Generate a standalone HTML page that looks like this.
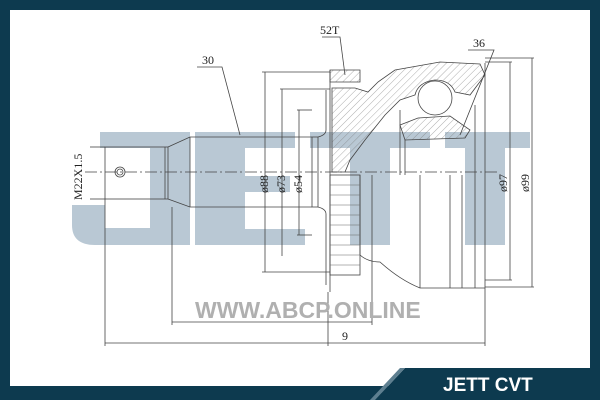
<!DOCTYPE html>
<html><head><meta charset="utf-8"><style>
html,body{margin:0;padding:0;background:#0d3a4f;}
svg{display:block;}
</style></head><body>
<svg width="600" height="400" viewBox="0 0 600 400" xmlns="http://www.w3.org/2000/svg" font-family="Liberation Serif, serif">
<defs>
<pattern id="h" width="5" height="5" patternUnits="userSpaceOnUse" patternTransform="rotate(45)">
<line x1="0" y1="0" x2="0" y2="5" stroke="#777" stroke-width="0.6"/>
</pattern>
</defs>
<rect width="600" height="400" fill="#0d3a4f"/>
<rect x="10" y="10" width="580" height="376" fill="#fff"/>
<polygon points="375,400 405,368 600,368 600,400" fill="#0d3a4f"/>
<polygon points="370,400 400,368 405,368 375,400" fill="#5e7f90"/>
<!-- watermark JETT -->
<g fill="#b9c8d4">
 <rect x="100" y="132" width="90" height="16"/>
 <rect x="150" y="132" width="40" height="113"/>
 <path d="M72,205 L105,205 L105,228 L150,228 L150,245 L95,245 Q72,245 72,225 Z"/>
 <rect x="195" y="132" width="100" height="16"/>
 <rect x="195" y="132" width="50" height="113"/>
 <rect x="195" y="176" width="95" height="16"/>
 <rect x="195" y="229" width="110" height="16"/>
 <rect x="310" y="132" width="120" height="16"/>
 <rect x="350" y="132" width="40" height="113"/>
 <rect x="445" y="132" width="85" height="16"/>
 <rect x="465" y="132" width="40" height="113"/>
</g>
<!-- hatched sections -->
<g fill="url(#h)" stroke="#444" stroke-width="0.8">
 <path d="M332,88 L355,88 L368,92 L378,82 L395,70 L440,62 L480,64 L485,75 L470,95 L455,92 Q450,80 435,80 Q418,82 415,95 L400,100 L385,115 L365,140 L350,160 L345,172 L332,172 Z"/>
 <path d="M400,125 L418,118 L450,116 L470,130 L465,138 L405,140 Z"/>
 <path d="M330,70 L360,70 L360,82 L330,82 Z"/>
</g>
<g stroke="#444" stroke-width="0.8" fill="none">
 <line x1="85" y1="172" x2="500" y2="172" stroke-dasharray="12,3,2,3"/>
 <rect x="105" y="147" width="63" height="52"/>
 <line x1="165" y1="147" x2="165" y2="199"/>
 <polyline points="168,147 190,137 312,137"/>
 <polyline points="168,199 190,207 312,207"/>
 <line x1="190" y1="137" x2="190" y2="207"/>
 <circle cx="120" cy="172" r="5"/><circle cx="120" cy="172" r="3"/>
 <rect x="312" y="137" width="6" height="70"/>
 <path d="M318,137 Q326,135 326,130 L326,90 M318,207 Q326,209 326,214 L326,285"/>
 <line x1="330" y1="70" x2="330" y2="292"/>
 <polyline points="485,63 485,288"/>
 <rect x="330" y="175" width="30" height="100"/>
 <path d="M360,175 L360,255 Q368,262 380,262 Q400,280 420,288 L485,288"/>
 <line x1="372" y1="175" x2="372" y2="262"/>
 <line x1="420" y1="175" x2="420" y2="288"/>
 <line x1="450" y1="175" x2="450" y2="288"/>
 <line x1="462" y1="175" x2="462" y2="288"/>
 <line x1="475" y1="105" x2="475" y2="288"/>
 <line x1="400" y1="110" x2="400" y2="175"/>
 <line x1="405" y1="140" x2="405" y2="175"/>
 <circle cx="435" cy="98" r="17"/>
 <line x1="265" y1="72" x2="265" y2="272"/><line x1="262" y1="72" x2="330" y2="72"/><line x1="262" y1="272" x2="330" y2="272"/>
 <line x1="282" y1="89" x2="282" y2="256"/><line x1="280" y1="89" x2="330" y2="89"/>
 <line x1="299" y1="110" x2="299" y2="235"/><line x1="297" y1="110" x2="312" y2="110"/><line x1="297" y1="235" x2="312" y2="235"/>
 <line x1="510" y1="62" x2="510" y2="280"/><line x1="485" y1="62" x2="512" y2="62"/><line x1="485" y1="280" x2="512" y2="280"/>
 <line x1="532" y1="58" x2="532" y2="287"/><line x1="485" y1="58" x2="534" y2="58"/><line x1="485" y1="287" x2="534" y2="287"/>
 <line x1="90" y1="147" x2="105" y2="147"/><line x1="90" y1="199" x2="105" y2="199"/>
 <line x1="105" y1="199" x2="105" y2="346"/>
 <line x1="172" y1="207" x2="172" y2="325"/>
 <line x1="372" y1="262" x2="372" y2="325"/>
 <line x1="485" y1="288" x2="485" y2="346"/>
 <line x1="328" y1="292" x2="328" y2="346"/>
 <line x1="172" y1="322" x2="372" y2="322"/>
 <line x1="105" y1="343" x2="485" y2="343"/>
 <polyline points="197,67 222,67 240,135"/>
 <polyline points="322,37 340,37 345,75"/>
 <polyline points="468,50 494,50 460,135"/>
</g>
<g stroke="#666" stroke-width="0.5">
 <line x1="330" y1="185" x2="360" y2="185"/><line x1="330" y1="195" x2="360" y2="195"/><line x1="330" y1="205" x2="360" y2="205"/>
 <line x1="330" y1="215" x2="360" y2="215"/><line x1="330" y1="225" x2="360" y2="225"/><line x1="330" y1="235" x2="360" y2="235"/>
 <line x1="330" y1="245" x2="360" y2="245"/><line x1="330" y1="255" x2="360" y2="255"/><line x1="330" y1="265" x2="360" y2="265"/>
</g>
<g font-size="12" fill="#222">
 <text x="202" y="64">30</text>
 <text x="320" y="34">52T</text>
 <text x="473" y="47">36</text>
 <text x="342" y="340">9</text>
 <text transform="translate(82,200) rotate(-90)">M22X1.5</text>
 <text transform="translate(268,193) rotate(-90)">ø88</text>
 <text transform="translate(285,193) rotate(-90)">ø73</text>
 <text transform="translate(302,193) rotate(-90)">ø54</text>
 <text transform="translate(507,192) rotate(-90)">ø97</text>
 <text transform="translate(529,192) rotate(-90)">ø99</text>
</g>
<text x="195" y="318" font-family="Liberation Sans, sans-serif" font-weight="bold" font-size="23" fill="#b0b0b0">WWW.ABCP.ONLINE</text>
<text x="443" y="391" font-family="Liberation Sans, sans-serif" font-weight="bold" font-size="19" fill="#fff">JETT CVT</text>
</svg>
</body></html>
